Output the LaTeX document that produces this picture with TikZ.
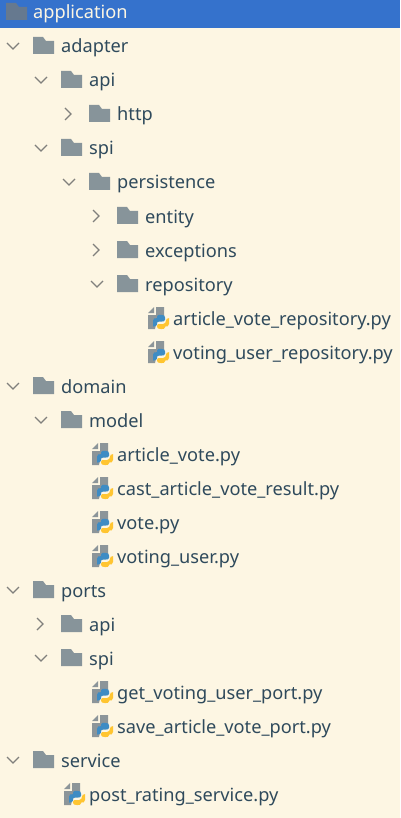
\documentclass[tikz,border=0pt]{standalone}
\usepackage{fontspec}
\setmainfont{Noto Sans}
\usetikzlibrary{positioning}
\definecolor{treeBack}{HTML}{FDF6E3}
\definecolor{treeSelect}{HTML}{3572CC}
\definecolor{treeText}{HTML}{2F4A5C}
\definecolor{treeChevron}{HTML}{80807C}
\definecolor{folderGrey}{HTML}{87949A}
\definecolor{folderSelect}{HTML}{66798F}
\definecolor{pageGrey}{HTML}{8C9599}
\definecolor{pyBlue}{HTML}{3E8CC4}
\definecolor{pyYellow}{HTML}{FFC531}

\begin{document}
\begin{tikzpicture}[
  x=1pt, y=-1pt,
  entry/.style={anchor=west, inner sep=0pt, text=treeText, font=\fontsize{18.2}{22}\selectfont,
                text height=17pt, text depth=3pt},
  selected/.style={entry, text=treeBack},
  folder/.pic={
    \fill[pic actions] (0,-9) -- (10,-9) -- (13,-5) -- (21,-5) -- (21,8) -- (0,8) -- cycle;
  },
  opened/.pic={
    \draw[treeChevron, line width=1.3pt] (-6,-3) -- (0,3) -- (6,-3);
  },
  closed/.pic={
    \draw[treeChevron, line width=1.3pt] (-3,-6) -- (3,0) -- (-3,6);
  },
  pyfile/.pic={
    \fill[pageGrey] (0,-5) -- (6,-11) -- (6,-5) -- cycle;
    \fill[pageGrey] (8,-11) -- (16,-11) -- (16,-2) -- (9,2) -- (7,11) -- (0,11) -- (0,-3) -- (8,-3) -- cycle;
    \begin{scope}[shift={(0,1)}, yscale=0.84]
    \fill[pyBlue] (5,9) -- (5,2) .. controls (5,-1) and (7,-1) .. (9,-1) -- (9,-3)
      .. controls (9,-5) and (11,-5) .. (13,-5) .. controls (16,-5) and (17,-4) .. (17,-2)
      -- (17,1) .. controls (17,3) and (15,3) .. (14,3) -- (11,3)
      .. controls (9,3) and (9,5) .. (9,6) -- (9,7) .. controls (8,9) and (6,9) .. (5,9) -- cycle;
    \fill[pyYellow] (21,-1) -- (21,6) .. controls (21,9) and (19,9) .. (17,9) -- (17,10)
      .. controls (17,12) and (15,12) .. (13,12) .. controls (10,12) and (9,11) .. (9,9)
      -- (9,8) .. controls (9,6) and (11,6) .. (12,6) -- (15,6)
      .. controls (17,6) and (18,4) .. (18,2) .. controls (18,0) and (19,-1) .. (21,-1) -- cycle;
    \end{scope}
  }
]

  \fill[treeBack] (0,0) rectangle (400,818);
  \fill[treeSelect] (0,0) rectangle (400,28);

  % --- selected root row ---
  \pic[fill=folderSelect] at (6,12) {folder};
  \node[selected] (application) at (33,12) {application};

  % --- adapter ---
  \pic at (13,46) {opened};
  \pic[fill=folderGrey] at (33,46) {folder};
  \node[entry] (adapter) at (61,46) {adapter};
  \pic at (41,80) {opened};
  \pic[fill=folderGrey] at (61,80) {folder};
  \node[entry] (adapterapi) at (89,80) {api};
  \pic at (68,114) {closed};
  \pic[fill=folderGrey] at (89,114) {folder};
  \node[entry] (http) at (117,114) {http};
  \pic at (41,148) {opened};
  \pic[fill=folderGrey] at (61,148) {folder};
  \node[entry] (adapterspi) at (89,148) {spi};
  \pic at (69,182) {opened};
  \pic[fill=folderGrey] at (89,182) {folder};
  \node[entry] (persistence) at (117,182) {persistence};
  \pic at (96,216) {closed};
  \pic[fill=folderGrey] at (117,216) {folder};
  \node[entry] (entity) at (145,216) {entity};
  \pic at (96,250) {closed};
  \pic[fill=folderGrey] at (117,250) {folder};
  \node[entry] (exceptions) at (145,250) {exceptions};
  \pic at (97,284) {opened};
  \pic[fill=folderGrey] at (117,284) {folder};
  \node[entry] (repository) at (145,284) {repository};
  \pic at (148,318) {pyfile};
  \node[entry] (articlerepo) at (173,318) {article\_vote\_repository.py};
  \pic at (148,352) {pyfile};
  \node[entry] (userrepo) at (173,352) {voting\_user\_repository.py};

  % --- domain ---
  \pic at (13,386) {opened};
  \pic[fill=folderGrey] at (33,386) {folder};
  \node[entry] (domain) at (61,386) {domain};
  \pic at (41,420) {opened};
  \pic[fill=folderGrey] at (61,420) {folder};
  \node[entry] (model) at (89,420) {model};
  \pic at (92,454) {pyfile};
  \node[entry] (articlevote) at (117,454) {article\_vote.py};
  \pic at (92,488) {pyfile};
  \node[entry] (castresult) at (117,488) {cast\_article\_vote\_result.py};
  \pic at (92,522) {pyfile};
  \node[entry] (vote) at (117,522) {vote.py};
  \pic at (92,556) {pyfile};
  \node[entry] (votinguser) at (117,556) {voting\_user.py};

  % --- ports ---
  \pic at (13,590) {opened};
  \pic[fill=folderGrey] at (33,590) {folder};
  \node[entry] (ports) at (61,590) {ports};
  \pic at (40,624) {closed};
  \pic[fill=folderGrey] at (61,624) {folder};
  \node[entry] (portsapi) at (89,624) {api};
  \pic at (41,658) {opened};
  \pic[fill=folderGrey] at (61,658) {folder};
  \node[entry] (portsspi) at (89,658) {spi};
  \pic at (92,692) {pyfile};
  \node[entry] (getport) at (117,692) {get\_voting\_user\_port.py};
  \pic at (92,726) {pyfile};
  \node[entry] (saveport) at (117,726) {save\_article\_vote\_port.py};

  % --- service ---
  \pic at (13,760) {opened};
  \pic[fill=folderGrey] at (33,760) {folder};
  \node[entry] (service) at (61,760) {service};
  \pic at (64,794) {pyfile};
  \node[entry] (ratingservice) at (89,794) {post\_rating\_service.py};

\end{tikzpicture}
\end{document}
